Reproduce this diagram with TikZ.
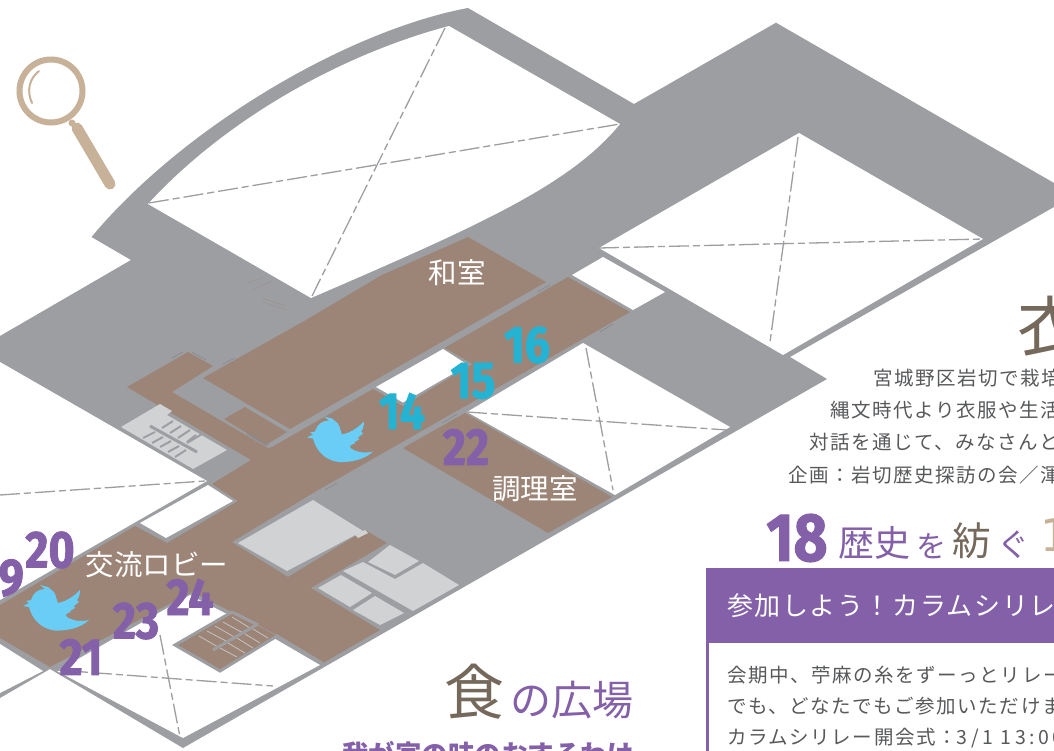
\documentclass[tikz,border=0pt]{standalone}
\usepackage{fontspec}
\setmainfont{Noto Sans CJK JP}
\newfontfamily\cjk{Noto Sans CJK JP}
\newfontfamily\cjksp[LetterSpace=8]{Noto Sans CJK JP}
\newfontfamily\cjkhd[LetterSpace=6]{Noto Sans CJK JP}
\newfontfamily\cjklat[LetterSpace=18]{Noto Sans CJK JP}
\newfontfamily\numf[FakeStretch=0.86,FakeBold=1.6]{Fira Sans Bold}
\newfontfamily\oddf{DejaVu Sans}
\definecolor{wallc}{HTML}{9D9EA1}
\definecolor{roomc}{HTML}{9C8577}
\definecolor{palec}{HTML}{D1D2D4}
\definecolor{purp}{HTML}{8360A8}
\definecolor{teal}{HTML}{25B3D3}
\definecolor{tanc}{HTML}{C7B299}
\definecolor{darkb}{HTML}{75695C}
\definecolor{inkc}{HTML}{58595B}
\definecolor{birdc}{HTML}{69CDF6}
\definecolor{tickc}{HTML}{87888B}
\tikzset{
  x=1pt,y=-1pt,
  wall/.style={fill=wallc,draw=none},
  hole/.style={fill=white,draw=none},
  room/.style={fill=roomc,draw=none},
  pale/.style={fill=palec,draw=none},
  gridline/.style={draw=wallc,line width=1.3pt,dash pattern=on 20pt off 4pt on 7pt off 4pt},
  tick/.style={draw=tickc,line width=.6pt},
  faint/.style={draw=roomc!55!wallc,line width=.4pt},
  stepw/.style={draw=wallc,line width=2pt},
  stepr/.style={draw=palec!80!roomc,line width=.8pt},
  numpurp/.style={font=\numf\fontsize{52}{52}\selectfont,text=purp,inner sep=0pt},
  numteal/.style={font=\numf\fontsize{52}{52}\selectfont,text=teal,inner sep=0pt},
  wlabel/.style={font=\cjk\fontsize{28.5}{28.5}\selectfont,text=white,inner sep=0pt},
  bodyl/.style={font=\cjksp\fontsize{19.5}{19.5}\selectfont,text=inkc,inner sep=0pt,anchor=west},
  birdpic/.pic={
    \fill[birdc] (66,35) .. controls (58,43) and (44,46) .. (32,45.5)
      .. controls (18,44) and (9,34) .. (6,22)
      -- (0,21) -- (6,18) -- (3,16) -- (8,15)
      .. controls (10,8) and (15,4) .. (22,4)
      -- (17,0) -- (25,2) -- (31,7)
      .. controls (34,12) and (33,15) .. (35,18)
      .. controls (45,16) and (52,10) .. (57,5)
      .. controls (57,9) and (56,13) .. (54,15)
      -- (56,17) -- (51,21) -- (52,23) -- (47,26) -- (48,27)
      .. controls (43,28) and (42,30) .. (44,32)
      .. controls (50,36) and (59,37) .. (66,35) -- cycle;
  }
}
\begin{document}
\begin{tikzpicture}
\useasboundingbox (0,0) rectangle (1054,751);
\clip (0,0) rectangle (1054,751);
\fill[white] (0,0) rectangle (1054,751);
% building
\fill[wall] (91.5,237) .. controls (185,125) and (350,30) .. (468,8)
  -- (634,104) -- (776,22.7) -- (1054,183) -- (1054,207) -- (790,357) -- (827,379)
  -- (183,748) -- (50,669) -- (0,698) -- (0,336) -- (131,260) -- cycle;
% voids
\fill[hole] (148,204) .. controls (225,120) and (340,55) .. (449,26)
  -- (620,124) .. controls (570,185) and (480,225) .. (311,298) -- cycle;
\fill[hole] (599,248) -- (799,133) -- (983,239) -- (783,355) -- cycle;
\fill[hole] (572,275) -- (603,257) -- (665,292) -- (633,310) -- cycle;
\fill[hole] (583,343) -- (730,427) -- (615,495) -- (467,412) -- cycle;
\fill[hole] (0,362) -- (207,481) -- (0,600) -- cycle;
\fill[hole] (57,671) -- (190,595) -- (277,640) -- (320,665) -- (183,738) -- cycle;
\fill[hole] (0,644) -- (43,671) -- (0,693) -- cycle;
\fill[hole] (140,523) -- (208,485) -- (233,501) -- (166,538) -- cycle;
% rooms
\fill[room] (468,237) -- (546,282) -- (290,429) -- (203,378) -- (306,320) -- (382,275) -- cycle;
\fill[room] (465,413) -- (612,497) -- (548,533) -- (403,448) -- cycle;
\fill[room] (568,277) -- (630,312) -- (313,493) -- (232,542) -- (288,577) -- (365,530)
  -- (387,543) -- (311,588) -- (380,630) -- (323,663) -- (277,635) -- (258,625)
  -- (232,612) -- (192,592) -- (50,667) -- (0,638) -- (0,605) -- (135,526)
  -- (167,543) -- (238,501) -- (212,484) -- (251,460) -- (127,387) -- (188,352)
  -- (213,366) -- (172,392) -- (268,448) -- (272,447) -- cycle;
\fill[room] (224,419) -- (245,407) -- (287,432) -- (266,445) -- cycle;
% notch in the corridor
\fill[wall] (372,388) -- (443,347) -- (472,364) -- (403,406) -- cycle;
\fill[hole] (376,387) -- (443,349) -- (468,365) -- (403,402.5) -- cycle;
% big grey box in the lobby
\fill[pale] (313,500) -- (238,543) -- (287,571) -- (363,531) -- cycle;
\fill[pale] (355,535) -- (365,530) -- (368,533) -- (358,538) -- cycle;
% kitchen block
\fill[pale] (368,562) -- (390,545) -- (419,561) -- (395,575) -- cycle;
\fill[pale] (343,571) -- (363,562) -- (395,579) -- (423,563) -- (459,585) -- (413,611) -- cycle;
\fill[pale] (318,588) -- (341,575) -- (372,593) -- (350,607) -- cycle;
\fill[pale] (353,610) -- (375,596) -- (404,613) -- (380,625) -- cycle;
% upper stairs
\fill[pale] (121,427) -- (160,404) -- (172,411) -- (167,415) -- (227,450) -- (193,469) -- cycle;
\draw[wallc,line width=3pt] (150,426) -- (197,452);
\foreach \a/\b/\c/\d in {162/428/173/421,170/433/181/426,178/438/190/430,187/442/196/435,
  143/438/155/432,152/443/163/437,160/447/171/441,168/452/179/446,175/457/186/450,187/443/202/434}
  \draw[stepw] (\a,\b) -- (\c,\d);
% lower stairs
\fill[room] (175,645) -- (232,612) -- (277,636) -- (220,671) -- cycle;
\foreach \a/\b/\c/\d in {199/636/218/647,207/631/228/642,215/626/236/638,223/622/243/633,232/617/250/628,
  220/648/237/657,228/643/245/653,237/638/253/648,245/634/260/643,253/629/268/638}
  \draw[stepr] (\a,\b) -- (\c,\d);
\draw[wallc,line width=3pt] (258,624) -- (213,650);
\draw[wallc,line width=3pt] (232,612) -- (258,625);
\draw[wallc,line width=3pt] (322,663) -- (277,636) -- (220,671) -- (175,645) -- (232,612);
% small ticks
\draw[tick] (172,358) -- (183,352);
\draw[tick] (192,352) -- (206,360);
\draw[tick] (223,364) -- (235,358);
\draw[tick] (247,434) -- (267,446);
\draw[tick] (249,433) -- (269,445);
\draw[tick] (325,490) -- (337,483);
\draw[tick] (537,292) -- (550,285);
\draw[tick] (600,332) -- (613,324);
\draw[tick] (442,423) -- (457,414);
\draw[faint] (248,283) -- (262,278);
\draw[faint] (254,289) -- (272,281);
\draw[faint] (262,298) -- (285,306);
\draw[faint] (263,302) -- (287,310);
% grid dashes in the voids
\coordinate (a1w) at (149,203); \coordinate (a1e) at (620,124);
\coordinate (a1n) at (445,28);  \coordinate (a1s) at (312,296);
\coordinate (a2w) at (599,248); \coordinate (a2e) at (983,239);
\coordinate (a2n) at (798,137); \coordinate (a2s) at (770,342);
\coordinate (a3w) at (467,412); \coordinate (a3e) at (727,430);
\coordinate (a3n) at (586,348); \coordinate (a3s) at (613,490);
\coordinate (a4w) at (57,670);  \coordinate (a4e) at (273,686);
\coordinate (a4n) at (160,635); \coordinate (a4s) at (180,737);
\coordinate (a5w) at (0,495);   \coordinate (a5e) at (205,481);
\draw[gridline] (a1w) -- (a1e);
\draw[gridline] (a1n) -- (a1s);
\draw[gridline] (a2w) -- (a2e);
\draw[gridline] (a2n) -- (a2s);
\draw[gridline] (a3w) -- (a3e);
\draw[gridline] (a3n) -- (a3s);
\draw[gridline] (a4w) -- (a4e);
\draw[gridline] (a4n) -- (a4s);
\draw[gridline] (a5w) -- (a5e);
% magnifier
\draw[tanc,line width=6pt] (51,91) circle[radius=31.5];
\draw[tanc,line width=2pt,line cap=round] (39,71) .. controls (30,78) and (26,90) .. (32,103);
\fill[tanc] (72,123) circle[radius=3.5];
\draw[tanc,line width=11pt,line cap=round] (77,128) -- (110,184);
% birds
\pic at (307,416.5) {birdpic};
\pic at (23,585) {birdpic};
% numbers
\node[numteal] (n14) at (402,411) {14};
\node[numteal] (n15) at (473,381) {15};
\node[numteal] (n16) at (527,345) {16};
\node[numpurp] (n22) at (466,447) {22};
\node[numpurp] (n20) at (50,550) {20};
\node[numpurp,anchor=east] (n19) at (24,578) {19};
\node[numpurp] (n21) at (81,657) {21};
\node[numpurp] (n23) at (136,621) {23};
\node[numpurp] (n24) at (190,597) {24};
% room labels
\node[wlabel] (l1) at (457,273) {和室};
\node[wlabel] (l2) at (535,489) {調理室};
\node[wlabel] (l3) at (157,565) {交流ロビー};
% right column
\node[font=\cjk\fontsize{66}{66}\selectfont,text=darkb,anchor=west,inner sep=0pt] (t1) at (1017,326) {衣};
\node[bodyl] (b1) at (873,378) {宮城野区岩切で栽培};
\node[bodyl] (b2) at (830,410) {縄文時代より衣服や生活};
\node[bodyl] (b3) at (809,442) {対話を通じて、みなさんと};
\node[bodyl] (b4) at (788,475) {企画：岩切歴史探訪の会／渾};
\node[font=\numf\fontsize{68}{68}\selectfont,text=purp,inner sep=0pt] (n18) at (797,538) {18};
\node[font=\cjk\fontsize{36}{36}\selectfont,text=purp,anchor=west,inner sep=0pt] (h1) at (838,543) {歴史};
\node[font=\cjk\fontsize{30}{30}\selectfont,text=purp,anchor=west,inner sep=0pt] (h2) at (916,546) {を};
\node[font=\cjk\fontsize{39}{39}\selectfont,text=darkb,anchor=west,inner sep=0pt] (h3) at (952,541) {紡};
\node[font=\cjk\fontsize{32}{32}\selectfont,text=purp,anchor=west,inner sep=0pt] (h4) at (997,545) {ぐ};
\node[font=\oddf\fontsize{45}{45}\selectfont,text=tanc,anchor=west,inner sep=0pt] (h6) at (1040,535) {1};
% box
\fill[purp] (706,568) rectangle (1054,643);
\fill[purp] (706,643) rectangle (709,751);
\node[font=\cjkhd\fontsize{26}{26}\selectfont,text=white,anchor=west,inner sep=0pt] (h5) at (727,606) {参加しよう！カラムシリレー};
\node[bodyl] (c1) at (727,675) {会期中、苧麻の糸をずーっとリレー};
\node[bodyl] (c2) at (727,706) {でも、どなたでもご参加いただけま};
\node[bodyl] (c3) at (727,738) {カラムシリレー開会式：{\cjklat 3/1 13:00}};
% food plaza
\node[font=\cjk\fontsize{60}{60}\selectfont,text=darkb,inner sep=0pt] (f1) at (474,692) {食};
\node[font=\cjk\fontsize{41}{41}\selectfont,text=purp,inner sep=0pt] (f2) at (572,700) {の広場};
\node[font=\cjk\bfseries\fontsize{26.5}{26.5}\selectfont,text=purp,inner sep=0pt] (f3) at (488,754) {我が家の味のおすそわけ};
\end{tikzpicture}
\end{document}
